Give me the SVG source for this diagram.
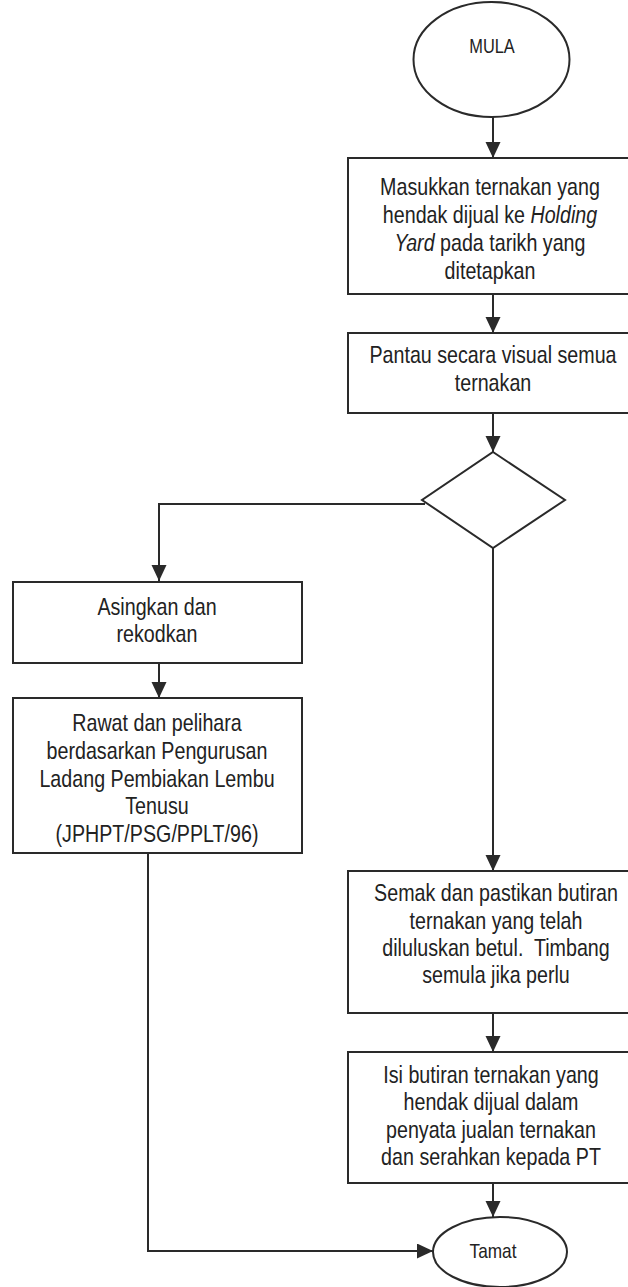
<svg xmlns="http://www.w3.org/2000/svg" width="628" height="1287" viewBox="0 0 628 1287">
  <style>
    .shape { fill: #ffffff; stroke: #2a2a2a; stroke-width: 2; }
    .wire { fill: none; stroke: #2a2a2a; stroke-width: 2; }
    .label { font-family: "Liberation Sans", Arial, sans-serif; font-size: 24px; fill: #222222; text-anchor: middle; }
    .small { font-size: 20px; }
    .end { font-size: 21px; }
    .it { font-style: italic; }
  </style>
  <defs>
    <marker id="arrow" markerUnits="userSpaceOnUse" markerWidth="16" markerHeight="16" refX="16" refY="7.5" orient="auto">
      <path d="M0,0 L16,7.5 L0,15 z" fill="#2a2a2a"/>
    </marker>
  </defs>
  <rect width="628" height="1287" fill="#ffffff"/>

  <!-- connectors -->
  <g id="connectors">
    <line class="wire" x1="493" y1="117" x2="493" y2="158" marker-end="url(#arrow)"/>
    <line class="wire" x1="493" y1="294" x2="493" y2="333" marker-end="url(#arrow)"/>
    <line class="wire" x1="493" y1="413" x2="493" y2="452" marker-end="url(#arrow)"/>
    <polyline class="wire" points="425,504 159,504 159,581" marker-end="url(#arrow)"/>
    <line class="wire" x1="493" y1="548" x2="493" y2="871" marker-end="url(#arrow)"/>
    <line class="wire" x1="159" y1="663" x2="159" y2="698" marker-end="url(#arrow)"/>
    <polyline class="wire" points="148,853 148,1251 433,1251" marker-end="url(#arrow)"/>
    <line class="wire" x1="493" y1="1013" x2="493" y2="1052" marker-end="url(#arrow)"/>
    <line class="wire" x1="493" y1="1183" x2="493" y2="1217" marker-end="url(#arrow)"/>
  </g>

  <!-- start -->
  <g id="mula">
    <ellipse class="shape" cx="491.5" cy="59.5" rx="78" ry="57.5"/>
    <g transform="translate(492 0) scale(0.82 1)">
      <text class="label small" x="0" y="53">MULA</text>
    </g>
  </g>

  <g id="masukkan">
    <rect class="shape" x="348" y="158" width="290" height="136"/>
    <g transform="translate(490 0) scale(0.82 1)">
      <text class="label" x="0" y="195">Masukkan ternakan yang</text>
      <text class="label" x="0" y="223">hendak dijual ke <tspan class="it">Holding</tspan></text>
      <text class="label" x="0" y="251"><tspan class="it">Yard</tspan> pada tarikh yang</text>
      <text class="label" x="0" y="279">ditetapkan</text>
    </g>
  </g>

  <g id="pantau">
    <rect class="shape" x="348" y="333" width="290" height="80"/>
    <g transform="translate(493 0) scale(0.82 1)">
      <text class="label" x="0" y="363">Pantau secara visual semua</text>
      <text class="label" x="0" y="391">ternakan</text>
    </g>
  </g>

  <g id="keputusan">
    <polygon class="shape" points="493,452 565,500 493,548 422,500"/>
  </g>

  <g id="asingkan">
    <rect class="shape" x="13" y="582" width="289" height="81"/>
    <g transform="translate(157 0) scale(0.82 1)">
      <text class="label" x="0" y="615">Asingkan dan</text>
      <text class="label" x="0" y="642">rekodkan</text>
    </g>
  </g>

  <g id="rawat">
    <rect class="shape" x="13" y="698" width="289" height="155"/>
    <g transform="translate(157 0) scale(0.82 1)">
      <text class="label" x="0" y="731">Rawat dan pelihara</text>
      <text class="label" x="0" y="759">berdasarkan Pengurusan</text>
      <text class="label" x="0" y="787">Ladang Pembiakan Lembu</text>
      <text class="label" x="0" y="814">Tenusu</text>
      <text class="label" x="0" y="842">(JPHPT/PSG/PPLT/96)</text>
    </g>
  </g>

  <g id="semak">
    <rect class="shape" x="348" y="871" width="290" height="142"/>
    <g transform="translate(496 0) scale(0.82 1)">
      <text class="label" x="0" y="901">Semak dan pastikan butiran</text>
      <text class="label" x="0" y="929">ternakan yang telah</text>
      <text class="label" x="0" y="956" xml:space="preserve">diluluskan betul.  Timbang</text>
      <text class="label" x="0" y="983">semula jika perlu</text>
    </g>
  </g>

  <g id="isi">
    <rect class="shape" x="348" y="1052" width="290" height="131"/>
    <g transform="translate(491 0) scale(0.82 1)">
      <text class="label" x="0" y="1083">Isi butiran ternakan yang</text>
      <text class="label" x="0" y="1110">hendak dijual dalam</text>
      <text class="label" x="0" y="1138">penyata jualan ternakan</text>
      <text class="label" x="0" y="1165">dan serahkan kepada PT</text>
    </g>
  </g>

  <!-- end -->
  <g id="tamat">
    <ellipse class="shape" cx="500" cy="1252" rx="67" ry="35"/>
    <g transform="translate(493 0) scale(0.82 1)">
      <text class="label end" x="0" y="1258">Tamat</text>
    </g>
  </g>
</svg>
